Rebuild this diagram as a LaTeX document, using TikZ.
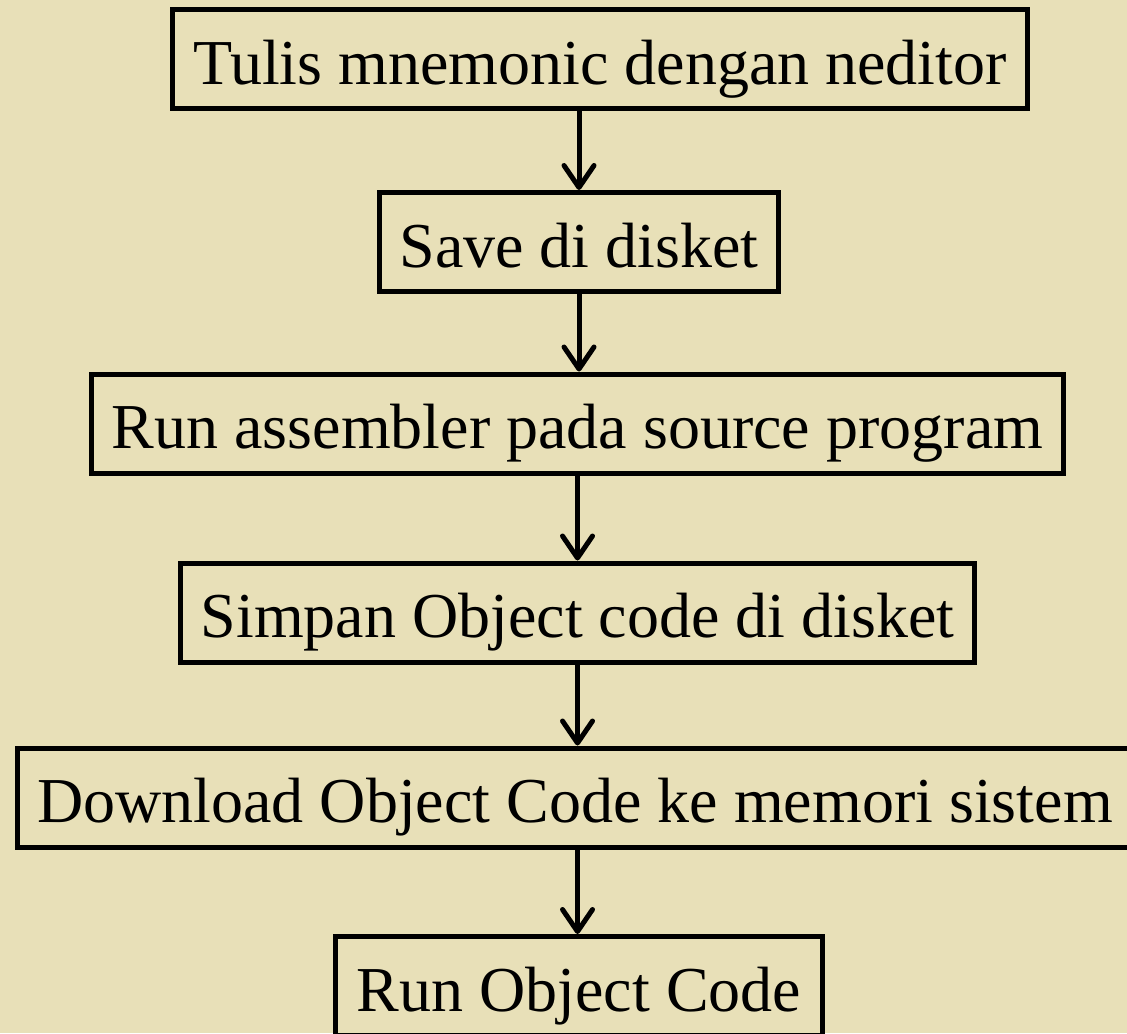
\documentclass[tikz,border=0pt]{standalone}
\usepackage{fontspec}
\setmainfont{Liberation Serif}
\usepackage{tikz}
\usetikzlibrary{arrows.meta,positioning}
\definecolor{sandbeige}{RGB}{232,224,184}

\begin{document}
\begin{tikzpicture}[x=0.5pt, y=-0.5pt,
    stepbox/.style={draw=black, line width=2.5pt, fill=sandbeige, minimum height=49.5pt, inner sep=0pt, text height=25pt, text depth=0pt, font=\fontsize{32}{38}\selectfont},
    flow/.style={line width=2.5pt, -{Straight Barb[length=11pt, width=15pt, round]}}]
    \useasboundingbox[fill=sandbeige] (0,0) rectangle (1127,1033);
    \node[stepbox, minimum width=427.5pt] (tulis) at (600,59) {Tulis mnemonic dengan neditor};
    \node[stepbox, minimum width=199.5pt] (save) at (579,242) {Save di disket};
    \node[stepbox, minimum width=486pt] (assemble) at (577.5,423.5) {Run assembler pada source program};
    \node[stepbox, minimum width=397pt] (simpan) at (577.5,612.5) {Simpan Object code di disket};
    \node[stepbox, minimum width=557.5pt] (download) at (575,797.5) {Download Object Code ke memori sistem};
    \node[stepbox, minimum width=243.5pt] (runobj) at (579,986) {Run Object Code};
    \draw[flow] (tulis.south -| save.north) -- (save.north);
    \draw[flow] (save.south) -- (save.south |- assemble.north);
    \draw[flow] (assemble.south) -- (simpan.north);
    \draw[flow] (simpan.south) -- (simpan.south |- download.north);
    \draw[flow] (download.south -| simpan.south) -- (runobj.north -| simpan.south);
\end{tikzpicture}
\end{document}
